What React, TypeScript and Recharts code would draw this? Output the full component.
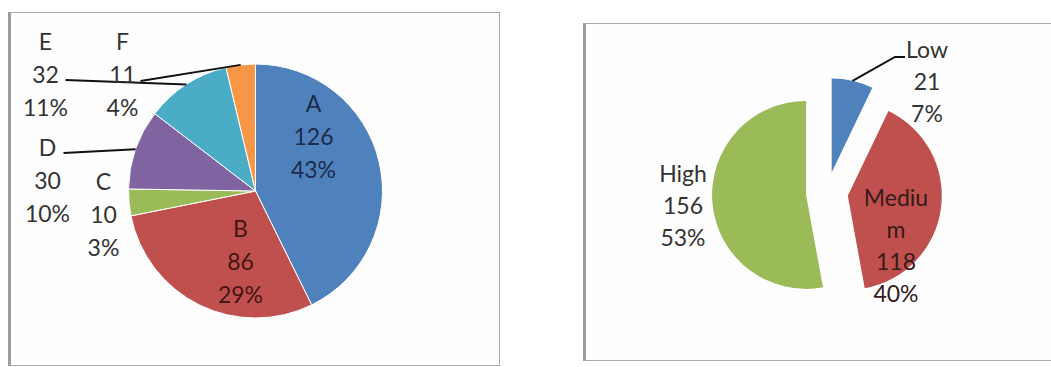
import React from "react";
import { PieChart, Pie, Cell, Sector } from "recharts";

const gradeNames = ["A", "B", "C", "D", "E", "F"];
const gradeCounts = [126, 86, 10, 30, 32, 11];
const gradeColors = ["#4F81BD", "#C0504D", "#9BBB59", "#8064A2", "#4BACC6", "#F79646"];

const levelNames = ["Low", "Medium", "High"];
const levelCounts = [21, 118, 156];
const levelColors = ["#4F81BD", "#C0504D", "#9BBB59"];

const RAD = Math.PI / 180;
const EXPLODE = 21;
const FONT = "Lato, 'Open Sans', sans-serif";

type LabelCfg = { dx: number; dy: number; color?: string; leader?: number[][] };

// label placement, relative to pie centre (x = text centre, y = first line)
const gradeLabels: LabelCfg[] = [
  { dx: 58, dy: -88, color: "#1c2c4a" },
  { dx: -15, dy: 37, color: "#461414" },
  { dx: -152, dy: -10 },
  { dx: -208, dy: -44, leader: [[-192, -38]] },
  { dx: -210, dy: -150, leader: [[-190, -111]] },
  { dx: -133, dy: -150, leader: [[-115, -110]] },
];

const levelLabels: LabelCfg[] = [
  { dx: 100, dy: -144, leader: [[78, -136], [68, -136]] },
  { dx: 69, dy: 4, color: "#351a1a" },
  { dx: -144, dy: -20 },
];

const gradeData = gradeNames.map((name, i) => ({ name, value: gradeCounts[i] }));
const levelData = levelNames.map((name, i) => ({ name, value: levelCounts[i] }));

function wrapName(name: string, max: number) {
  const out: string[] = [];
  for (let i = 0; i < name.length; i += max) out.push(name.slice(i, i + max));
  return out;
}

function makeLabel(layout: LabelCfg[], lineH: number, explode: number, wrap: number) {
  return (props: any) => {
    const { cx, cy, midAngle, outerRadius, index, value, percent, name } = props;
    const cfg = layout[index];
    const cos = Math.cos(-midAngle * RAD);
    const sin = Math.sin(-midAngle * RAD);
    const ex = cx + (explode + outerRadius) * cos;
    const ey = cy + (explode + outerRadius) * sin;
    const lines = [...wrapName(String(name), wrap), String(value), `${Math.round(percent * 100)}%`];
    const x = cx + cfg.dx;
    const y = cy + cfg.dy;
    return (
      <g key={`lbl-${index}`}>
        {cfg.leader && (
          <polyline
            points={[...cfg.leader.map(([a, b]) => `${cx + a},${cy + b}`), `${ex},${ey}`].join(" ")}
            fill="none"
            stroke="#111"
            strokeWidth={2}
          />
        )}
        {lines.map((l, i) => (
          <text
            key={i}
            x={x}
            y={y + i * lineH}
            textAnchor="middle"
            dominantBaseline="central"
            fill={cfg.color ?? "#333"}
            fontSize={23}
            fontFamily={FONT}
          >
            {l}
          </text>
        ))}
      </g>
    );
  };
}

const explodedSector = (props: any) => {
  const { cx, cy, midAngle } = props;
  const dx = EXPLODE * Math.cos(-midAngle * RAD);
  const dy = EXPLODE * Math.sin(-midAngle * RAD);
  return <Sector {...props} cx={cx + dx} cy={cy + dy} />;
};

const frame: React.CSSProperties = {
  position: "absolute",
  boxSizing: "border-box",
  background: "#fefefe",
  border: "1px solid #ababab",
  borderLeft: "3px solid #9c9c9c",
};

export default function App() {
  return (
    <div style={{ position: "relative", width: 1051, height: 367, overflow: "hidden", background: "#fff" }}>
      <style>{"body{margin:0}"}</style>
      <div style={{ ...frame, left: 8, top: 12, width: 492, height: 354 }} />
      <div style={{ ...frame, left: 583, top: 23, width: 490, height: 338 }} />

      <div style={{ position: "absolute", left: 9, top: 12 }}>
        <PieChart width={491} height={354} margin={{ top: 0, right: 0, bottom: 0, left: 0 }}>
          <Pie
            data={gradeData}
            dataKey="value"
            nameKey="name"
            cx={246.5}
            cy={179}
            outerRadius={127}
            startAngle={90}
            endAngle={-270}
            stroke="#fff"
            strokeWidth={1}
            isAnimationActive={false}
            labelLine={false}
            label={makeLabel(gradeLabels, 33, 0, 99)}
          >
            {gradeData.map((d, i) => (
              <Cell key={d.name} fill={gradeColors[i]} />
            ))}
          </Pie>
        </PieChart>
      </div>

      <div style={{ position: "absolute", left: 584, top: 23 }}>
        <PieChart width={467} height={338} margin={{ top: 0, right: 0, bottom: 0, left: 0 }}>
          <Pie
            data={levelData}
            dataKey="value"
            nameKey="name"
            cx={243}
            cy={170}
            outerRadius={94}
            startAngle={90}
            endAngle={-270}
            stroke="none"
            isAnimationActive={false}
            labelLine={false}
            shape={explodedSector}
            activeShape={explodedSector}
            inactiveShape={explodedSector}
            label={makeLabel(levelLabels, 32, EXPLODE, 5)}
          >
            {levelData.map((d, i) => (
              <Cell key={d.name} fill={levelColors[i]} />
            ))}
          </Pie>
        </PieChart>
      </div>
    </div>
  );
}
